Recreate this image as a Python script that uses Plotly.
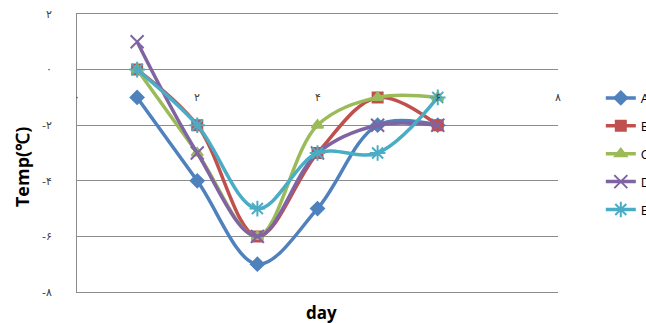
import plotly.graph_objects as go

days = [1, 2, 3, 4, 5, 6]
series_names = ["A", "B", "C", "D", "E"]
A = [-1, -4, -7, -5, -2, -2]
B = [0, -2, -6, -3, -1, -2]
C = [0, -3, -6, -2, -1, -1]
D = [1, -3, -6, -3, -2, -2]
E = [0, -2, -5, -3, -3, -1]

y_tick_vals = [2, 0, -2, -4, -6, -8]
y_tick_text = ["۲", "۰", "-۲", "-۴", "-۶", "-۸"]
x_tick_vals = [0, 2, 4, 6, 8]
x_tick_text = ["۰", "۲", "۴", "۶", "۸"]
x_label_level = -1

colors = ["#4F81BD", "#C0504D", "#9BBB59", "#8064A2", "#4BACC6"]
symbols = ["diamond", "square", "triangle-up", "x-thin-open", "asterisk-open"]
sizes = [10, 10, 10, 13, 13]

fig = go.Figure()
for name, vals, col, sym, sz in zip(series_names, [A, B, C, D, E], colors, symbols, sizes):
    fig.add_trace(go.Scatter(
        x=days, y=vals, name=name, mode="lines+markers", legendgroup=name,
        line=dict(color=col, width=3.5, shape="spline", smoothing=1.0),
        marker=dict(symbol=sym, size=sz, color=col, line=dict(color=col, width=2)),
    ))

for v, t in zip(x_tick_vals, x_tick_text):
    fig.add_annotation(x=v, y=x_label_level, xref="x", yref="y", text=t, showarrow=False,
                       font=dict(size=11, color="#404040", family="DejaVu Sans"))

fig.add_annotation(x=-0.114, y=0.45, xref="paper", yref="paper", xanchor="center", yanchor="middle",
                   text="<b>Temp(℃)</b>", textangle=-90, showarrow=False,
                   font=dict(size=18, color="#000", family="Open Sans"))
fig.add_annotation(x=0.509, y=-0.072, xref="paper", yref="paper", xanchor="center", yanchor="middle",
                   text="<b>day</b>", showarrow=False,
                   font=dict(size=17, color="#000", family="Open Sans"))

fig.update_layout(
    width=646, height=323,
    margin=dict(l=77, r=88, t=14, b=31, autoexpand=False),
    paper_bgcolor="white", plot_bgcolor="white",
    showlegend=True,
    legend=dict(x=1.089, xanchor="left", y=0.752, yanchor="top", tracegroupgap=8,
                font=dict(size=13, color="#000", family="Open Sans"),
                bgcolor="rgba(0,0,0,0)"),
    xaxis=dict(range=[0, 8], showgrid=False, showticklabels=False, zeroline=False,
               showline=True, mirror=True, linecolor="#8C8C8C", linewidth=1, ticks=""),
    yaxis=dict(range=[-8, 2], tickvals=y_tick_vals, ticktext=y_tick_text,
               showgrid=True, gridcolor="#8C8C8C", gridwidth=1, zeroline=False,
               showline=True, linecolor="#8C8C8C", linewidth=1, ticks="",
               ticklabelstandoff=22,
               tickfont=dict(size=11, color="#404040", family="DejaVu Sans")),
)

fig.write_html("out.html", config={"displayModeBar": False},
               post_script="document.body.style.margin='0';document.body.style.overflow='hidden';")
